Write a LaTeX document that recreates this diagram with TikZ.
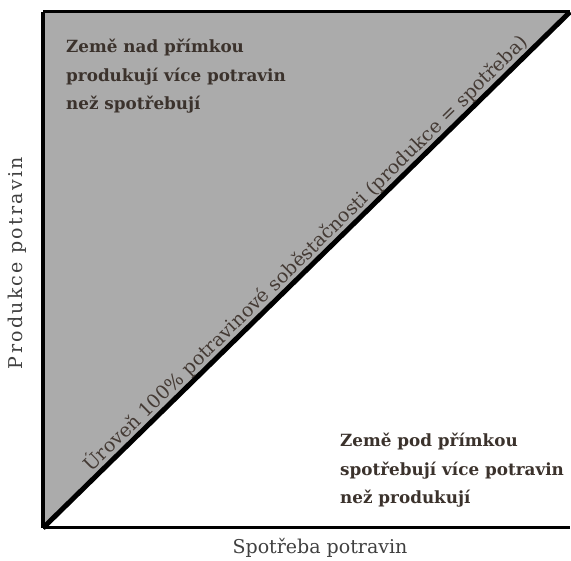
\documentclass[tikz,border=0pt]{standalone}
\usepackage{fontspec}
\setmainfont{DejaVu Serif}
\definecolor{areagray}{HTML}{ABABAB}
\definecolor{txtbrown}{HTML}{3B322C}
\definecolor{difftxt}{HTML}{443a34}
\begin{document}
\begin{tikzpicture}[x=1pt,y=1pt,
  blocktext/.style={font=\fontsize{16.8}{28.5}\selectfont\bfseries, text=txtbrown, align=left, inner sep=0pt},
  axislabel/.style={font=\fontsize{19}{22}\selectfont, text=black!75, inner sep=0pt},
  difflabel/.style={font=\fontsize{19}{22}\selectfont, text=difftxt, inner sep=0pt}]
\useasboundingbox (0,0) rectangle (571,561);
\fill[white] (0,0) rectangle (571,561);
\coordinate (O) at (43,33);
\coordinate (TL) at (43,549);
\coordinate (TR) at (570,549);
\coordinate (BR) at (570,33);
\fill[areagray] (O) -- (TL) -- (TR) -- cycle;
\draw[line width=3.5pt] (O) -- (TL);
\draw[line width=3pt] (TL) -- (TR);
\draw[line width=3pt] (O) -- (BR);
\draw[line width=5pt] (O) -- (TR) node[difflabel, pos=0.515, sloped, anchor=base, yshift=6pt] (diag) {Úroveň 100\% potravinové soběstačnosti (produkce = spotřeba)};
\node[blocktext, anchor=north west] (above) at (66,522) {Země nad přímkou\\produkují více potravin\\než spotřebují};
\node[blocktext, anchor=north west] (below) at (340,128) {Země pod přímkou\\spotřebují více potravin\\než produkují};
\node[axislabel] (xlab) at (320,13) {Spotřeba potravin};
\node[axislabel, rotate=90, font=\fontsize{19}{22}\selectfont\addfontfeatures{LetterSpace=12}] (ylab) at (17,298) {Produkce potravin};
\end{tikzpicture}
\end{document}
